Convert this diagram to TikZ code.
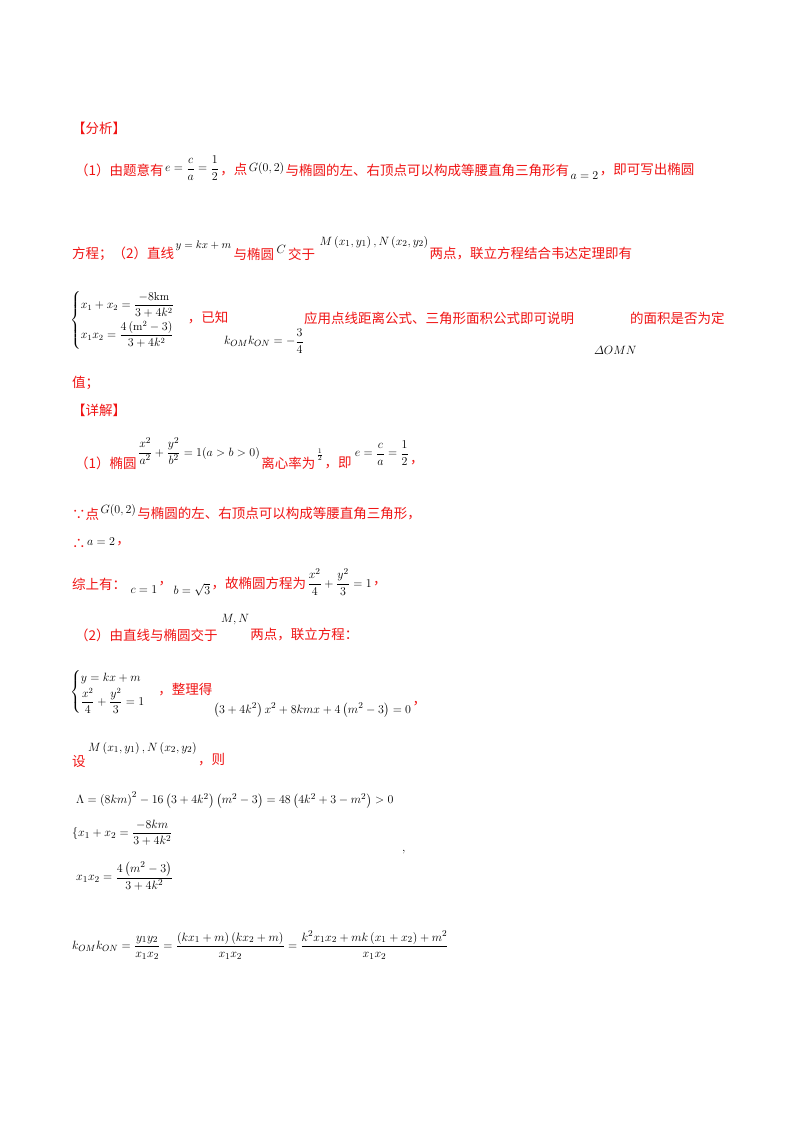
\documentclass[tikz,border=0pt]{standalone}
\usepackage{amsmath}
\usepackage{fontspec}
\newfontfamily\cjk{Noto Sans CJK SC}
\definecolor{txtred}{RGB}{240,20,20}
\tikzset{
  cn/.style={anchor=west,inner sep=0pt,text=txtred,font=\cjk\fontsize{13.5}{15}\selectfont},
  mt/.style={anchor=west,inner sep=0pt,text=black,font=\fontsize{12.5}{14}\selectfont},
}
\begin{document}
\begin{tikzpicture}[x=1pt,y=-1pt]
\useasboundingbox (0,0) rectangle (800,1132);
\fill[white] (0,0) rectangle (800,1132);
\coordinate (r1) at (0,170);
\coordinate (r2) at (0,254);
% 分析
\node[cn] (h1) at (72,128) {【分析】};
\node[cn] (a1) at (75,170) {（1）由题意有};
\node[mt] (a2) at ([xshift=1pt,yshift=2pt]a1.east |- r1) {$e=\dfrac{c}{a}=\dfrac{1}{2}$};
\node[cn] (a3) at ([xshift=1pt]a2.east |- r1) {，点};
\node[mt] (a4) at ([xshift=1pt,yshift=2pt]a3.east |- r1) {$G(0,2)$};
\node[cn] (a5) at ([xshift=1pt]a4.east |- r1) {与椭圆的左、右顶点可以构成等腰直角三角形有};
\node[mt] (a6) at ([xshift=1pt,yshift=-6pt]a5.east |- r1) {$a=2$};
\node[cn] (a7) at ([xshift=1pt]a6.east |- r1) {，即可写出椭圆};
\node[cn] (b1) at (72,254) {方程；（2）直线};
\node[mt] (b2) at ([xshift=1pt,yshift=8pt]b1.east |- r2) {\fontsize{10.5}{12}\selectfont$y=kx+m$};
\node[cn] (b3) at ([xshift=2pt]b2.east |- r2) {与椭圆};
\node[mt] (b4) at ([xshift=2pt,yshift=5pt]b3.east |- r2) {$C$};
\node[cn] (b5) at ([xshift=2pt]b4.east |- r2) {交于};
\node[mt] (b6) at ([xshift=4pt,yshift=12pt]b5.east |- r2) {$M\left(x_1,y_1\right),N\left(x_2,y_2\right)$};
\node[cn] (b7) at ([xshift=1pt]b6.east |- r2) {两点，联立方程结合韦达定理即有};
\node[mt] (c1) at (70,320) {\fontsize{11.5}{13}\selectfont$\begin{cases} x_1+x_2=\dfrac{-8\mathrm{km}}{3+4k^2}\\[8pt] x_1x_2=\dfrac{4\left(\mathrm{m}^2-3\right)}{3+4k^2}\end{cases}$};
\node[cn] (c2) at ([xshift=1pt]c1.east |- 0,318) {，已知};
\node[mt] (c3) at (224,341) {$k_{OM}k_{ON}=-\dfrac{3}{4}$};
\node[cn] (c4) at (304,318) {应用点线距离公式、三角形面积公式即可说明};
\node[cn] (c5) at (630,318) {的面积是否为定};
\node[mt] (c6) at (594,350) {$\varDelta OMN$};
\node[cn] (c7) at (72,383) {值；};
% 详解
\node[cn] (h2) at (72,410) {【详解】};
\coordinate (r3) at (0,463);
\node[cn] (d1) at (75,463) {（1）椭圆};
\node[mt] (d2) at ([xshift=1pt,yshift=12pt]d1.east |- r3) {$\dfrac{x^2}{a^2}+\dfrac{y^2}{b^2}=1(a>b>0)$};
\node[cn] (d3) at ([xshift=1pt]d2.east |- r3) {离心率为};
\node[mt] (d4) at ([xshift=1pt,yshift=8pt]d3.east |- r3) {\fontsize{10}{11}\selectfont$\frac{1}{2}$};
\node[cn] (d5) at ([xshift=1pt]d4.east |- r3) {，即};
\node[mt] (d6) at ([xshift=3pt,yshift=10pt]d5.east |- r3) {$e=\dfrac{c}{a}=\dfrac{1}{2}$};
\node[cn] (d7) at ([xshift=1pt]d6.east |- r3) {，};
\coordinate (r4) at (0,514);
\node[cn] (e1) at (72,514) {∵点};
\node[mt] (e2) at ([xshift=1pt,yshift=4pt]e1.east |- r4) {$G(0,2)$};
\node[cn] (e3) at ([xshift=1pt]e2.east |- r4) {与椭圆的左、右顶点可以构成等腰直角三角形，};
\node[cn] (f1) at (72,544) {∴};
\node[mt] (f2) at ([xshift=1pt,yshift=2pt]f1.east |- 0,544) {$a=2$};
\node[cn] (f3) at ([xshift=1pt]f2.east |- 0,544) {，};
\coordinate (r5) at (0,584);
\node[cn] (g1) at (72,584) {综上有：};
\node[mt] (g2) at ([xshift=4pt,yshift=-6pt]g1.east |- r5) {$c=1$};
\node[cn] (g3) at ([xshift=1pt]g2.east |- r5) {，};
\node[mt] (g4) at ([xshift=1pt,yshift=-6pt]g3.east |- r5) {$b=\sqrt{3}$};
\node[cn] (g5) at ([xshift=1pt]g4.east |- r5) {，故椭圆方程为};
\node[mt] (g6) at ([xshift=1pt,yshift=2pt]g5.east |- r5) {$\dfrac{x^2}{4}+\dfrac{y^2}{3}=1$};
\node[cn] (g7) at ([xshift=1pt]g6.east |- r5) {，};
\coordinate (r6) at (0,635);
\node[cn] (h3) at (75,635) {（2）由直线与椭圆交于};
\node[mt] (h4) at ([xshift=3pt,yshift=15pt]h3.east |- r6) {$M,N$};
\node[cn] (h5) at ([xshift=1pt]h4.east |- r6) {两点，联立方程：};
\node[mt] (i1) at (70,692) {\fontsize{11.5}{13}\selectfont$\begin{cases} y=kx+m\\[2pt] \dfrac{x^2}{4}+\dfrac{y^2}{3}=1\end{cases}$};
\node[cn] (i2) at ([xshift=1pt]i1.east |- 0,690) {，整理得};
\node[mt] (i3) at ([xshift=1pt]i2.east |- 0,710) {$\left(3+4k^2\right)x^2+8kmx+4\left(m^2-3\right)=0$};
\node[cn] (i4) at ([xshift=1pt]i3.east |- 0,704) {，};
\node[cn] (j1) at (72,762) {设};
\node[mt] (j2) at ([xshift=2pt]j1.east |- 0,748) {$M\left(x_1,y_1\right),N\left(x_2,y_2\right)$};
\node[cn] (j3) at ([xshift=1pt]j2.east |- 0,760) {，则};
\node[mt] (k1) at (76,800) {$\Lambda=\left(8km\right)^2-16\left(3+4k^2\right)\left(m^2-3\right)=48\left(4k^2+3-m^2\right)>0$};
\node[mt] (k2) at (72,833) {$\{x_1+x_2=\dfrac{-8km}{3+4k^2}$};
\node[mt] (k3) at (76,876) {$x_1x_2=\dfrac{4\left(m^2-3\right)}{3+4k^2}$};
\node[mt] (k4) at (402,852) {,};
\node[mt] (l1) at (72,945) {$k_{OM}k_{ON}=\dfrac{y_1y_2}{x_1x_2}=\dfrac{\left(kx_1+m\right)\left(kx_2+m\right)}{x_1x_2}=\dfrac{k^2x_1x_2+mk\left(x_1+x_2\right)+m^2}{x_1x_2}$};
\end{tikzpicture}
\end{document}
